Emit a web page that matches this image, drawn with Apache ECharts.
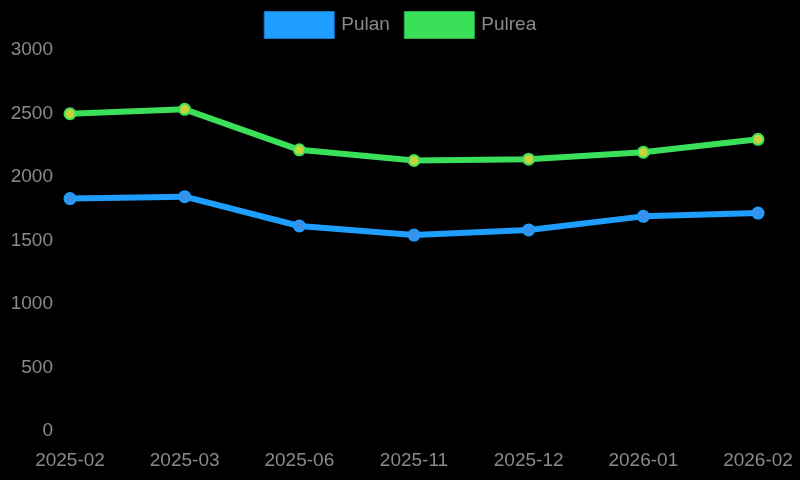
<!DOCTYPE html>
<html>
<head>
<meta charset="utf-8">
<style>
  html, body { margin: 0; padding: 0; background: #000; }
  #chart { width: 800px; height: 480px; }
</style>
<script src="https://cdn.jsdelivr.net/npm/echarts@6/dist/echarts.min.js"></script>
</head>
<body>
<div id="chart"></div>
<script>
var months = ['2025-02', '2025-03', '2025-06', '2025-11', '2025-12', '2026-01', '2026-02'];
var pulan = [1830, 1845, 1614, 1543, 1583, 1690, 1716];
var pulrea = [2498, 2533, 2214, 2130, 2140, 2195, 2297];

var textGrey = '#8a8a8a';
var blue = '#1e9fff';
var green = '#3be05a';

var chart = echarts.init(document.getElementById('chart'), null, { renderer: 'canvas' });
chart.setOption({
  animation: false,
  backgroundColor: '#000',
  textStyle: { fontFamily: 'Liberation Sans, Arial, sans-serif' },
  legend: {
    top: 6,
    left: 'center',
    itemWidth: 70,
    itemHeight: 27,
    itemGap: 14,
    icon: 'rect',
    textStyle: { color: textGrey, fontSize: 19, padding: [0, 0, 0, 2] },
    data: [
      { name: 'Pulan', itemStyle: { color: blue, borderColor: '#1479c9', borderWidth: 1 } },
      { name: 'Pulrea', itemStyle: { color: green, borderColor: '#27b043', borderWidth: 1 } }
    ]
  },
  grid: { left: 70, right: 42, top: 50, bottom: 49, containLabel: false },
  xAxis: {
    type: 'category',
    boundaryGap: false,
    data: months,
    axisLine: { show: false },
    axisTick: { show: false },
    splitLine: { show: false },
    axisLabel: { color: textGrey, fontSize: 19, margin: 20 }
  },
  yAxis: {
    type: 'value',
    min: 0,
    max: 3000,
    interval: 500,
    axisLine: { show: false },
    axisTick: { show: false },
    splitLine: { show: false },
    axisLabel: {
      color: textGrey,
      fontSize: 19,
      margin: 17,
      formatter: function(v) { return String(v); }
    }
  },
  series: [
    {
      name: 'Pulan',
      type: 'line',
      data: pulan,
      symbol: 'circle',
      symbolSize: 11,
      lineStyle: { color: blue, width: 6 },
      itemStyle: { color: '#3a90e8', borderColor: blue, borderWidth: 2 }
    },
    {
      name: 'Pulrea',
      type: 'line',
      data: pulrea,
      symbol: 'circle',
      symbolSize: 11,
      lineStyle: { color: green, width: 6 },
      itemStyle: { color: '#c8d23c', borderColor: green, borderWidth: 2 }
    }
  ]
});
window.addEventListener('resize', function() { chart.resize(); });
</script>
</body>
</html>
